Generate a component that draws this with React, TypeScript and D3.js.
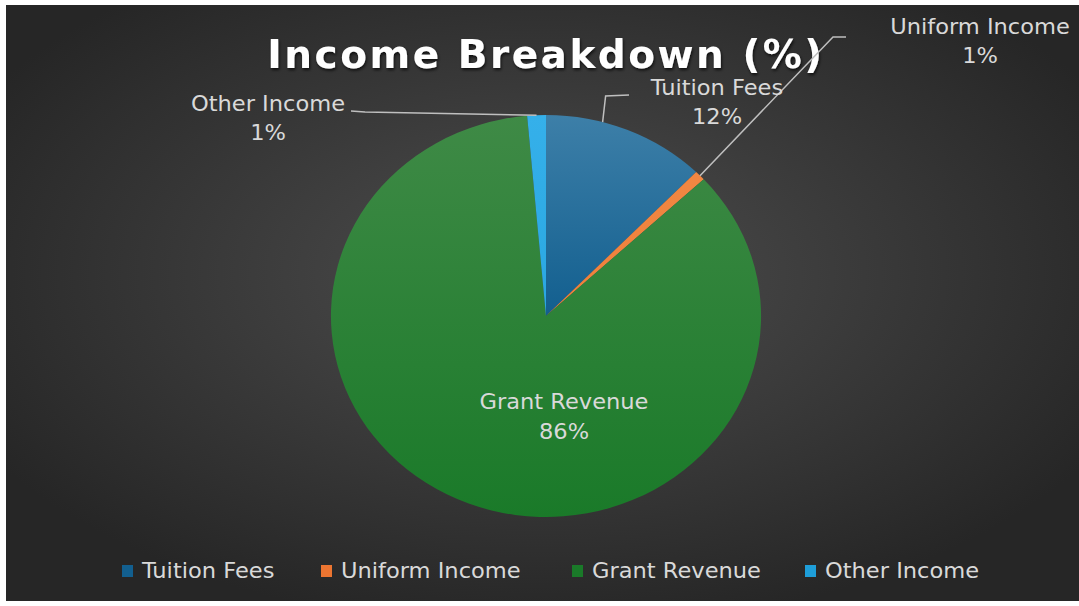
import React from "react";
import * as d3 from "d3";

const categories = ["Tuition Fees", "Uniform Income", "Grant Revenue", "Other Income"];
const values = [12.3, 0.8, 85.5, 1.4];
const percentLabels = ["12%", "1%", "86%", "1%"];
const colorsTop = ["#3d7fa8", "#f28a45", "#3f8a46", "#35b0ea"];
const colorsBottom = ["#125f8f", "#ec7531", "#1a7a29", "#1e9ed9"];

const W = 1079;
const H = 606;
const cx = 546;
const cy = 316;
const R = 201;
const SX = 1.07;
const TX = 1.1;

const labelPos: [number, number][] = [[717, 88], [980, 27], [564, 402], [268, 104]];
const legendTextX = [142, 341, 592, 825];

export default function App() {
  const data = categories.map((c, i) => ({ name: c, value: values[i], i }));
  const pie = d3.pie<any>().sort(null).value((d) => d.value);
  const arcs = pie(data);
  const arc = d3.arc<any>().innerRadius(0).outerRadius(R);

  const pt = (a: number, r: number): [number, number] => [cx + SX * r * Math.sin(a), cy - r * Math.cos(a)];

  const leaders: Record<number, [number, number][]> = {};
  arcs.forEach((a, i) => {
    const mid = (a.startAngle + a.endAngle) / 2;
    if (i === 0) {
      const p = pt(mid - 0.12, R);
      leaders[i] = [p, [p[0] + 3, 96], [629, 95]];
    } else if (i === 1) {
      const p = pt(mid, R);
      leaders[i] = [p, [833, 37], [846, 37]];
    } else if (i === 3) {
      const p = pt(mid, R);
      leaders[i] = [p, [365, 112], [351, 111]];
    }
  });

  return (
    <svg width={W} height={H} style={{ position: "absolute", left: 0, top: 0 }}>
      <defs>
        <radialGradient id="bg" cx="50%" cy="45%" r="60%">
          <stop offset="0%" stopColor="#4e4e4e" />
          <stop offset="100%" stopColor="#262626" />
        </radialGradient>
        {categories.map((c, i) => (
          <linearGradient key={c} id={`g${i}`} gradientUnits="userSpaceOnUse" x1={0} y1={-R} x2={0} y2={R}>
            <stop offset="0%" stopColor={colorsTop[i]} />
            <stop offset={i === 0 ? "50%" : "100%"} stopColor={colorsBottom[i]} />
          </linearGradient>
        ))}
        <filter id="sh" x="-10%" y="-30%" width="120%" height="160%">
          <feDropShadow dx="1" dy="2" stdDeviation="1.5" floodColor="#000" floodOpacity="0.7" />
        </filter>
      </defs>
      <rect x={0} y={0} width={W} height={H} fill="#ffffff" />
      <rect x={6} y={5} width={W - 6} height={596} fill="url(#bg)" />
      <text
        x={546}
        y={68}
        textAnchor="middle"
        fill="#ffffff"
        fontFamily="'DejaVu Sans', sans-serif"
        fontWeight="bold"
        fontSize={39}
        letterSpacing={2.5}
        filter="url(#sh)"
      >
        Income Breakdown (%)
      </text>
      <g transform={`translate(${cx},${cy}) scale(${SX},1)`}>
        {arcs.map((a, i) => (
          <path key={i} d={arc(a) || ""} fill={`url(#g${i})`} />
        ))}
      </g>
      {Object.entries(leaders).map(([k, pts]) => (
        <polyline
          key={k}
          points={pts.map((p) => p.join(",")).join(" ")}
          fill="none"
          stroke="#bfbfbf"
          strokeWidth={1.5}
        />
      ))}
      {arcs.map((a, i) => {
        const [x, y] = labelPos[i];
        return (
          <g key={i} transform={`translate(${x},${y + 7}) scale(${TX},1)`}>
            <text textAnchor="middle" fill="#d9d9d9" fontFamily="'DejaVu Sans', sans-serif" fontSize={20.5}>
              <tspan x={0} y={0}>{categories[i]}</tspan>
              <tspan x={0} y={i === 2 ? 30 : 29}>{percentLabels[i]}</tspan>
            </text>
          </g>
        );
      })}
      {categories.map((c, i) => (
        <g key={c}>
          <rect x={legendTextX[i] - 20} y={565} width={11} height={12} fill={colorsBottom[i]} />
          <g transform={`translate(${legendTextX[i]},578) scale(${TX},1)`}>
            <text x={0} y={0} fill="#d9d9d9" fontFamily="'DejaVu Sans', sans-serif" fontSize={20.5}>
              {c}
            </text>
          </g>
        </g>
      ))}
    </svg>
  );
}
